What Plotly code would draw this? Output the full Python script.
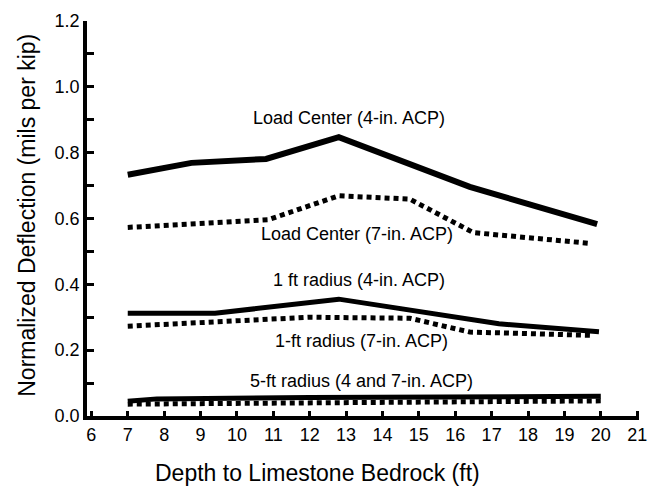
import plotly.graph_objects as go

# Normalized deflection (mils per kip) vs depth to limestone bedrock (ft)
lc4_depth = [7.0, 8.75, 10.8, 12.8, 16.4, 19.9]
lc4_defl = [0.733, 0.769, 0.781, 0.847, 0.696, 0.583]

lc7_depth = [7.0, 10.85, 12.8, 14.75, 16.5, 19.75]
lc7_defl = [0.573, 0.596, 0.669, 0.659, 0.557, 0.524]

r1_4_depth = [7.0, 9.4, 12.8, 17.2, 19.95]
r1_4_defl = [0.312, 0.312, 0.355, 0.280, 0.256]

r1_7_depth = [7.0, 12.0, 14.75, 16.4, 19.75]
r1_7_defl = [0.273, 0.300, 0.297, 0.255, 0.245]

r5_4_depth = [7.0, 7.8, 12.0, 20.0]
r5_4_defl = [0.045, 0.052, 0.056, 0.060]

r5_7_depth = [7.0, 20.0]
r5_7_defl = [0.036, 0.046]

x_ticks = list(range(6, 22))
y_ticks = [0.0, 0.2, 0.4, 0.6, 0.8, 1.0, 1.2]
y_tick_text = ["0.0", "0.2", "0.4", "0.6", "0.8", "1.0", "1.2"]

labels = [
    ("Load Center (4-in. ACP)", 13.08, 0.905),
    ("Load Center (7-in. ACP)", 13.30, 0.552),
    ("1 ft radius (4-in. ACP)", 13.35, 0.414),
    ("1-ft radius (7-in. ACP)", 13.42, 0.228),
    ("5-ft radius (4 and 7-in. ACP)", 13.43, 0.106),
]

FONT = "Liberation Sans, Arial, Helvetica, sans-serif"
INK = "#000000"
DOTS = "5px,4px"

fig = go.Figure()

series = [
    (r5_7_depth, r5_7_defl, DOTS, 5),
    (r5_4_depth, r5_4_defl, "solid", 5),
    (r1_7_depth, r1_7_defl, DOTS, 5),
    (r1_4_depth, r1_4_defl, "solid", 5),
    (lc7_depth, lc7_defl, DOTS, 5),
    (lc4_depth, lc4_defl, "solid", 6),
]
for xs, ys, dash, w in series:
    fig.add_trace(go.Scatter(
        x=xs, y=ys, mode="lines",
        line=dict(color=INK, width=w, dash=dash),
        showlegend=False, hoverinfo="skip",
    ))

for text, x, y in labels:
    fig.add_annotation(
        x=x, y=y, xref="x", yref="y", text=text, showarrow=False,
        xanchor="center", yanchor="middle",
        font=dict(family=FONT, size=18, color=INK),
    )

W, H = 662, 489
ML, MR, MT, MB = 87, 23, 21, 72.5
pw, ph = W - ML - MR, H - MT - MB


def px_to_paper(px, py):
    return (px - ML) / pw, (H - MB - py) / ph


# axis titles, placed by pixel centre
tx, ty = px_to_paper(317, 474)
fig.add_annotation(
    x=tx, y=ty, xref="paper", yref="paper",
    xanchor="center", yanchor="middle",
    text="Depth to Limestone Bedrock (ft)", showarrow=False,
    font=dict(family=FONT, size=23, color=INK),
)
tx, ty = px_to_paper(27, 216)
fig.add_annotation(
    x=tx, y=ty, xref="paper", yref="paper",
    xanchor="center", yanchor="middle",
    text="Normalized Deflection (mils per kip)", showarrow=False, textangle=-90,
    font=dict(family=FONT, size=23, color=INK),
)

fig.update_layout(
    width=W, height=H,
    margin=dict(l=ML, r=MR, t=MT, b=MB),
    paper_bgcolor="white", plot_bgcolor="white",
    font=dict(family=FONT, color=INK),
    xaxis=dict(
        range=[5.88, 21.05], tickmode="array", tickvals=x_ticks,
        ticks="inside", ticklen=5, tickwidth=2.5, tickcolor=INK,
        showline=True, linewidth=3.5, linecolor=INK,
        showgrid=False, zeroline=False,
        tickfont=dict(family=FONT, size=18, color=INK),
    ),
    yaxis=dict(
        range=[0, 1.2], tickmode="array", tickvals=y_ticks, ticktext=y_tick_text,
        ticks="inside", ticklen=7, tickwidth=2.5, tickcolor=INK,
        minor=dict(dtick=0.1, ticks="inside", ticklen=7, tickwidth=2.5, tickcolor=INK),
        showline=True, linewidth=3.5, linecolor=INK,
        showgrid=False, zeroline=False,
        tickfont=dict(family=FONT, size=18, color=INK),
    ),
)

fig.write_html("out.html")
